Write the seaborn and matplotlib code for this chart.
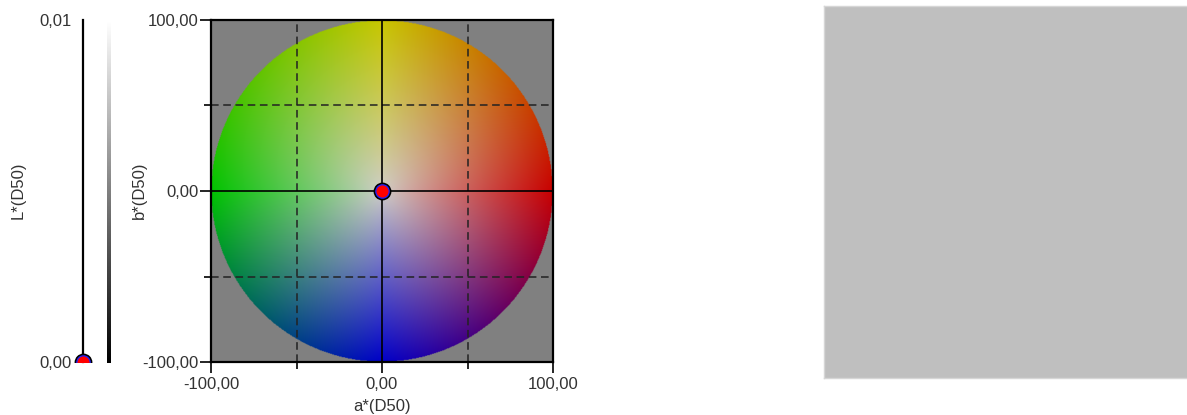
import numpy as np
import pandas as pd
import matplotlib
matplotlib.use("Agg")
import matplotlib.pyplot as plt
import seaborn as sns

# measured sample (CIELAB, D50)
L_values = [0.0]
a_values = [0.0]
b_values = [0.0]

L_ticks = [0.0, 0.01]
L_tick_labels = ["0,00", "0,01"]
ab_major = [-100, 0, 100]
ab_minor = [-50, 50]
ab_tick_labels = ["-100,00", "0,00", "100,00"]

sns.set_style("white")
plt.rcParams['font.family'] = ['Liberation Sans', 'DejaVu Sans']
plt.rcParams['font.size'] = 12
TXT = '#333333'

df = pd.DataFrame({'L': L_values, 'a': a_values, 'b': b_values, 'x0': [0.0]})

W, H = 1187, 415
fig = plt.figure(figsize=(W / 100, H / 100), dpi=100)


def px(x0, y0, w, h):
    return [x0 / W, 1 - (y0 + h) / H, w / W, h / H]


def sample_marker(ax, x, y):
    sns.scatterplot(data=df, x=x, y=y, ax=ax, s=165, color='black',
                    linewidth=0, zorder=5, legend=False, clip_on=True)
    sns.scatterplot(data=df, x=x, y=y, ax=ax, s=92, color='#ff0000',
                    edgecolor='#2020ff', linewidth=0.9, zorder=6, legend=False,
                    clip_on=True)


# ---- L* axis ----
axL = fig.add_axes(px(68, 20, 30, 342))
axL.set_xlim(-1, 1)
axL.set_ylim(0, 0.01)
for s in ['top', 'right', 'bottom']:
    axL.spines[s].set_visible(False)
axL.spines['left'].set_position(('data', 0))
axL.spines['left'].set_linewidth(1.6)
axL.spines['left'].set_color('black')
axL.set_xticks([])
axL.set_yticks(L_ticks)
axL.set_yticklabels(L_tick_labels, color=TXT)
axL.tick_params(axis='y', direction='inout', length=13.5, width=1.2,
                pad=1.5, colors='black', labelcolor=TXT)
axL.patch.set_alpha(0)
sample_marker(axL, 'x0', 'L')
axL.set_xlabel('')
axL.set_ylabel('')
fig.text(18 / W, 1 - 190 / H, 'L*(D50)', rotation=90, ha='center', va='center',
         color=TXT, fontsize=12)

# ---- lightness gradient strip ----
axG = fig.add_axes(px(107, 22, 4, 341))
grad = np.linspace(1, 0, 256).reshape(-1, 1)
axG.imshow(grad, cmap='gray', aspect='auto', vmin=0, vmax=1)
axG.axis('off')

# ---- a*b* plane ----
ax = fig.add_axes(px(211, 20, 342, 342))
ax.set_facecolor('#808080')
ax.set_xlim(-100, 100)
ax.set_ylim(-100, 100)

n = 500
g = np.linspace(-100, 100, n)
A, B = np.meshgrid(g, g[::-1])
r = np.clip(np.hypot(A, B) / 100, 0, 1)
ang = np.mod(np.degrees(np.arctan2(B, A)), 360)
anchors_ang = [0, 90, 180, 270, 360]
anchors = np.array([[200, 0, 0], [200, 198, 0], [0, 195, 0], [0, 0, 200], [200, 0, 0]]) / 255
edge = np.stack([np.interp(ang, anchors_ang, anchors[:, k]) for k in range(3)], axis=-1)
center = np.array([208, 206, 200]) / 255
w = r ** 0.9
rgb = center * (1 - w[..., None]) + edge * w[..., None]
alpha = (np.hypot(A, B) <= 100).astype(float)
ax.imshow(np.dstack([rgb, alpha]), extent=[-100, 100, -100, 100], zorder=1,
          interpolation='bilinear')
ax.set_aspect('auto')

for v in ab_minor:
    ax.axvline(v, color='#222222', lw=1.1, ls=(0, (5, 3)), zorder=2)
    ax.axhline(v, color='#222222', lw=1.1, ls=(0, (5, 3)), zorder=2)
ax.axvline(0, color='black', lw=1.2, zorder=2)
ax.axhline(0, color='black', lw=1.2, zorder=2)

sample_marker(ax, 'a', 'b')

ax.set_xticks(ab_major)
ax.set_xticklabels(ab_tick_labels)
ax.set_yticks(ab_major)
ax.set_yticklabels(ab_tick_labels)
ax.set_xticks(ab_minor, minor=True)
ax.set_yticks(ab_minor, minor=True)
ax.tick_params(which='major', direction='out', length=8, width=1.2, pad=1,
               colors='black', labelcolor=TXT, left=True, bottom=True)
ax.tick_params(which='minor', direction='out', length=5, width=1.2,
               colors='black', left=True, bottom=True)
ax.tick_params(axis='x', which='major', pad=3)
for s in ax.spines.values():
    s.set_color('black')
    s.set_linewidth(1.6)
    s.set_zorder(4)
ax.set_xlabel('a*(D50)', color=TXT, labelpad=5)
ax.set_ylabel('')
fig.text(139 / W, 1 - 190 / H, 'b*(D50)', rotation=90, ha='center', va='center',
         color=TXT, fontsize=12)

# ---- colour preview swatch ----
axS = fig.add_axes(px(824, 6, 380, 372))
axS.set_facecolor('#bfbfbf')
axS.set_xticks([])
axS.set_yticks([])
for s in axS.spines.values():
    s.set_color('#d6d6d6')
    s.set_linewidth(1)

fig.savefig('out.png', dpi=100)
